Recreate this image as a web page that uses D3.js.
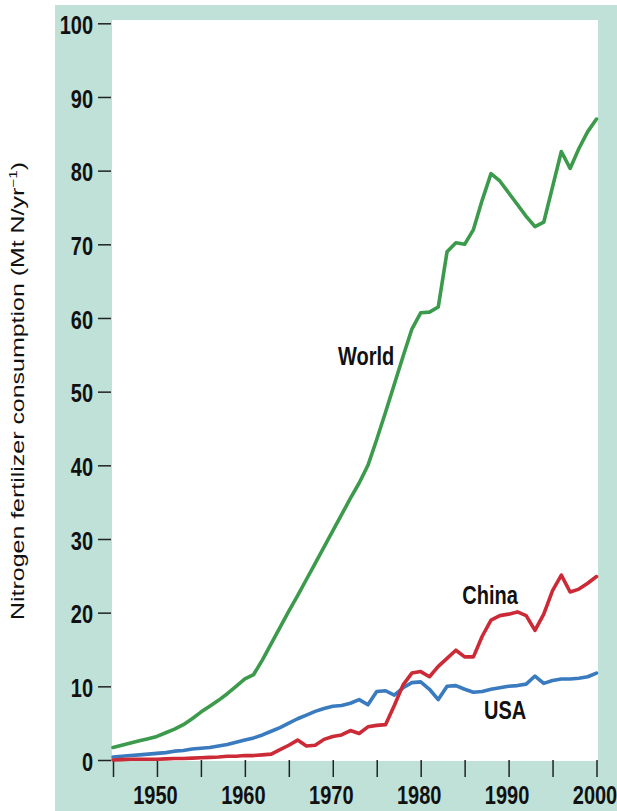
<!DOCTYPE html>
<html><head><meta charset="utf-8">
<script src="https://cdn.jsdelivr.net/npm/d3@7/dist/d3.min.js"></script>
<style>
body{margin:0;background:#fff;}
text{font-family:"Liberation Sans",Arial,Helvetica,sans-serif;fill:#111;}
</style>
</head><body>
<svg id="c" width="617" height="811"></svg>
<script>
const years = [1945,1946,1947,1948,1949,1950,1951,1952,1953,1954,1955,1956,1957,1958,1959,
  1960,1961,1962,1963,1964,1965,1966,1967,1968,1969,1970,1971,1972,1973,1974,1975,1976,1977,
  1978,1979,1980,1981,1982,1983,1984,1985,1986,1987,1988,1989,1990,1991,1992,1993,1994,1995,
  1996,1997,1998,1999,2000];
const world = [1.7,2.0,2.3,2.6,2.9,3.2,3.7,4.2,4.8,5.6,6.5,7.3,8.1,9.0,10.0,
  11.0,11.6,13.6,15.8,18.0,20.2,22.3,24.5,26.7,28.9,31.1,33.3,35.5,37.6,40.0,43.5,47.2,51.0,
  54.8,58.5,60.7,60.8,61.5,69.0,70.2,70.0,72.0,76.0,79.6,78.6,77.0,75.4,73.8,72.4,73.0,77.8,
  82.6,80.3,83.0,85.3,87.0];
const china = [0.0,0.05,0.1,0.1,0.1,0.1,0.15,0.2,0.2,0.25,0.3,0.35,0.4,0.5,0.5,
  0.6,0.6,0.7,0.8,1.4,2.0,2.7,1.9,2.0,2.8,3.2,3.4,4.0,3.6,4.5,4.7,4.8,7.4,
  10.2,11.8,12.0,11.3,12.7,13.8,14.9,14.0,14.0,16.8,19.0,19.6,19.8,20.1,19.6,17.6,19.8,23.0,
  25.1,22.8,23.2,24.0,24.9];
const usa = [0.4,0.5,0.6,0.7,0.8,0.9,1.0,1.2,1.3,1.5,1.6,1.7,1.9,2.1,2.4,
  2.7,3.0,3.4,3.9,4.4,5.0,5.6,6.1,6.6,7.0,7.3,7.4,7.7,8.2,7.5,9.3,9.4,8.8,
  9.8,10.5,10.6,9.6,8.2,10.0,10.1,9.6,9.2,9.3,9.6,9.8,10.0,10.1,10.3,11.4,10.4,10.8,
  11.0,11.0,11.1,11.3,11.8];
const seriesNames = ["World","China","USA"];
const xTicks = [1945,1950,1955,1960,1965,1970,1975,1980,1985,1990,1995,2000];
const xTickLabels = ["","1950","","1960","","1970","","1980","","1990","","2000"];
const yTicks = [0,10,20,30,40,50,60,70,80,90,100];
const yTitle = "Nitrogen fertilizer consumption (Mt N/yr";
// label anchors in data units
const labelYears = [1973.8, 1987.9, 1989.6];
const labelValues = [54.8, 22.3, 6.65];

const colors = {World:"#3b9a4b", China:"#cc2a36", USA:"#3a7bbf"};
const teal = "#bfe1d8";

const svg = d3.select("#c");
const x = d3.scaleLinear().domain([1945,2000]).range([113,596.5]);
const y = d3.scaleLinear().domain([0,100]).range([760,23.3]);

svg.append("rect").attr("x",55).attr("y",5).attr("width",562).attr("height",806).attr("fill",teal);
svg.append("rect").attr("x",112).attr("y",20).attr("width",486).attr("height",741).attr("fill","#fff");

// y axis
const yAx = svg.append("g").attr("transform","translate(111,0)")
  .call(d3.axisLeft(y).tickValues(yTicks).tickSize(13).tickPadding(5));
yAx.select(".domain").remove();
yAx.selectAll(".tick line").attr("stroke","#222").attr("stroke-width",1.5);
yAx.selectAll(".tick text").attr("dy",0).attr("dominant-baseline","central")
  .attr("font-size",20).attr("font-weight","bold")
  .attr("font-family",'"Liberation Sans",Arial,sans-serif').attr("fill","#111")
  .attr("transform","translate(0,2) scale(1,1.25)");

// x axis
const xAx = svg.append("g").attr("transform","translate(0,760)")
  .call(d3.axisBottom(x).tickValues(xTicks).tickSize(17)
    .tickFormat((d,i)=>xTickLabels[i]));
xAx.select(".domain").remove();
xAx.selectAll(".tick line").attr("stroke","#222").attr("stroke-width",1.5);
xAx.selectAll(".tick text").attr("y",0).attr("dy",0).attr("dominant-baseline","central")
  .attr("font-size",20).attr("font-weight","bold")
  .attr("font-family",'"Liberation Sans",Arial,sans-serif').attr("fill","#111")
  .attr("transform","translate(-2,36) scale(1,1.25)");

// lines
const data = {World: world, China: china, USA: usa};
const line = d3.line().x((d,i)=>x(years[i])).y(d=>y(d)).curve(d3.curveLinear);
["World","USA","China"].forEach(name=>{
  svg.append("path").datum(data[name]).attr("d",line)
    .attr("fill","none").attr("stroke",colors[name]).attr("stroke-width",3.6)
    .attr("stroke-linejoin","round").attr("stroke-linecap","round");
});

// series labels
seriesNames.forEach((name,i)=>{
  svg.append("g").attr("transform",`translate(${x(labelYears[i])},${y(labelValues[i])}) scale(1,1.25)`)
    .append("text").attr("text-anchor","middle").attr("dominant-baseline","central")
    .attr("font-size",20).attr("font-weight","bold").text(name);
});

// y title
const t = svg.append("text").attr("transform","translate(24,391) rotate(-90)")
  .attr("text-anchor","middle").attr("font-size",18)
  .attr("textLength",458).attr("lengthAdjust","spacingAndGlyphs");
t.append("tspan").text(yTitle);
t.append("tspan").attr("font-size",11).attr("dy",-7).text("−1");
t.append("tspan").attr("dy",7).text(")");
</script>
</body></html>
